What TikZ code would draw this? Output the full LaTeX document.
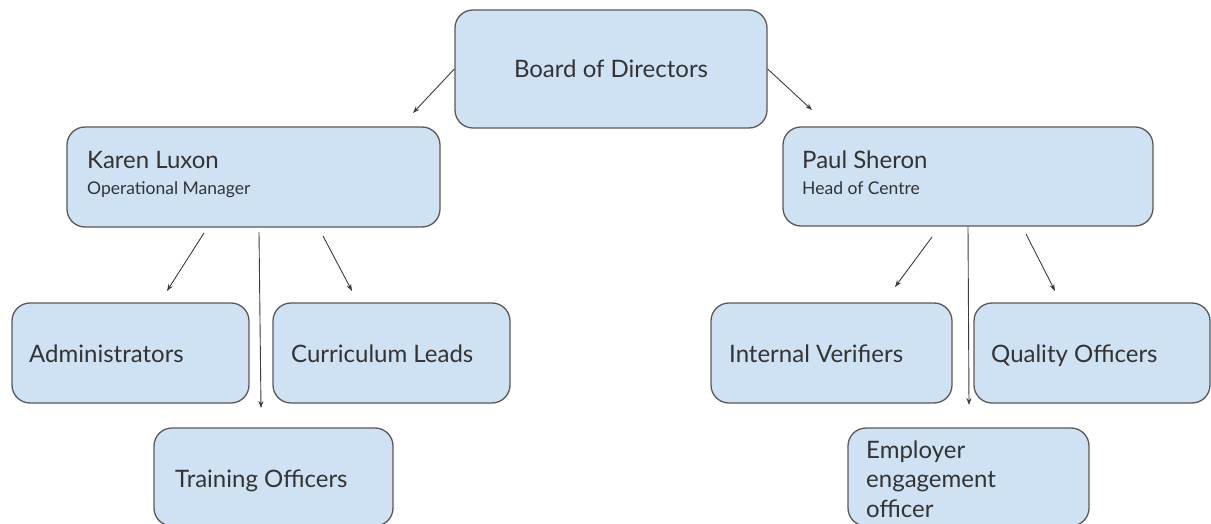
\documentclass[tikz,border=0pt]{standalone}
\usepackage{fontspec}
\setmainfont{Lato}
\usetikzlibrary{arrows.meta}
\definecolor{boxfill}{HTML}{CFE2F3}
\definecolor{boxline}{HTML}{595959}
\definecolor{arrowc}{HTML}{3C3C3C}
\definecolor{txt}{HTML}{333333}
\tikzset{
  box/.style={draw=boxline, fill=boxfill, line width=1.3pt, rounded corners=18pt, inner sep=0pt},
  big/.style={font=\fontsize{24}{28}\selectfont, text=txt, inner sep=0pt},
  small/.style={font=\fontsize{17.5}{20}\selectfont, text=txt, inner sep=0pt},
  conn/.style={draw=arrowc, line width=0.9pt, -{Stealth[length=7pt,width=5pt]}}
}
\begin{document}
\begin{tikzpicture}[x=1pt,y=-1pt]
\useasboundingbox (0,0) rectangle (1211,524);
% boxes
\node[box, minimum width=312pt, minimum height=118pt] (board) at (611,69) {};
\node[box, minimum width=373pt, minimum height=100pt] (karen) at (253.5,177) {};
\node[box, minimum width=370pt, minimum height=99pt] (paul) at (968,176.5) {};
\node[box, minimum width=237pt, minimum height=100pt] (admin) at (130.5,353) {};
\node[box, minimum width=237pt, minimum height=100pt] (curr) at (391.5,353) {};
\node[box, minimum width=239pt, minimum height=98pt] (train) at (273.5,477) {};
\node[box, minimum width=241pt, minimum height=100pt] (iv) at (831.5,353) {};
\node[box, minimum width=236pt, minimum height=100pt] (qo) at (1092,353) {};
\node[box, minimum width=241pt, minimum height=98pt] (emp) at (968.5,477) {};
% texts
\node[big, anchor=base] (boardT) at (611,78) {Board of Directors};
\node[big, anchor=base west] (karenT) at (87,169) {Karen Luxon};
\node[small, anchor=base west] (karenS) at (87,194) {Operational Manager};
\node[big, anchor=base west] (paulT) at (802,169) {Paul Sheron};
\node[small, anchor=base west] (paulS) at (802,194) {Head of Centre};
\node[big, anchor=base west] (adminT) at (29,362) {Administrators};
\node[big, anchor=base west] (currT) at (291,362) {Curriculum Leads};
\node[big, anchor=base west] (trainT) at (175,487) {Training Officers};
\node[big, anchor=base west] (ivT) at (729,362) {Internal Verifiers};
\node[big, anchor=base west] (qoT) at (991,362) {Quality Officers};
\node[big, anchor=base west] (empT1) at (866,458) {Employer};
\node[big, anchor=base west] (empT2) at (866,487) {engagement};
\node[big, anchor=base west] (empT3) at (866,517) {officer};
% connector end points
\coordinate (bk) at (413,113);
\coordinate (bp) at (812,110);
\coordinate (ka1) at (204,233); \coordinate (ka2) at (167,291);
\coordinate (kt1) at (259,232); \coordinate (kt2) at (261,408);
\coordinate (kc1) at (323,236); \coordinate (kc2) at (352,291);
\coordinate (pi1) at (932,237); \coordinate (pi2) at (895,287);
\coordinate (pe2) at (969,405);
\coordinate (pq1) at (1026,234); \coordinate (pq2) at (1055,291);
% connectors
\draw[conn] (board.west) -- (bk);
\draw[conn] (board.east) -- (bp);
\draw[conn] (ka1) -- (ka2);
\draw[conn] (kt1) -- (kt2);
\draw[conn] (kc1) -- (kc2);
\draw[conn] (pi1) -- (pi2);
\draw[conn] (paul.south) -- (pe2);
\draw[conn] (pq1) -- (pq2);
\end{tikzpicture}
\end{document}
